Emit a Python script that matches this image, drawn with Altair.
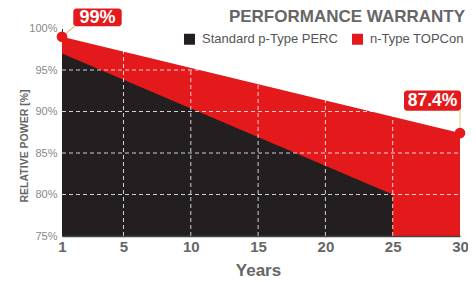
import altair as alt
import pandas as pd

# ---- data ----
series_names = ["Standard p-Type PERC", "n-Type TOPCon"]
perc_years = [1, 25]
perc_power = [97.0, 80.0]
topcon_years = [1, 30]
topcon_power = [99.0, 87.4]
x_ticks = [1, 5, 10, 15, 20, 25, 30]
y_ticks = [75, 80, 85, 90, 95, 100]
grid_x = [5, 10, 15, 20, 25]
grid_y = [80, 85, 90, 95]
anno_years = [1, 30]
anno_power = [99.0, 87.4]
anno_text = ["99%", "87.4%"]
chart_title = ["PERFORMANCE WARRANTY"]

RED = "#e3191c"
BLACK = "#231f20"
FONT = "Liberation Sans"

perc_df = pd.DataFrame({"year": perc_years, "power": perc_power, "series": series_names[0]})
top_df = pd.DataFrame({"year": topcon_years, "power": topcon_power, "series": series_names[1]})
gx_df = pd.DataFrame({"year": grid_x})
gy_df = pd.DataFrame({"power": grid_y})
a1 = pd.DataFrame({"year": [anno_years[0]], "power": [anno_power[0]], "label": [anno_text[0]]})
a2 = pd.DataFrame({"year": [anno_years[1]], "power": [anno_power[1]], "label": [anno_text[1]]})
title_df = pd.DataFrame({"year": [30], "power": [100], "label": chart_title})

W, H = 398, 207.5
xscale = alt.Scale(domain=[1, 5, 30], range=[0, 61.5, W], zero=False, nice=False)
yscale = alt.Scale(domain=[75, 100], zero=False, nice=False)

xaxis = alt.Axis(
    title="Years", values=x_ticks, grid=False, ticks=False, labelFlush=False,
    labelFont=FONT, labelFontSize=15, labelFontWeight="bold", labelColor="#666666",
    labelPadding=3, domainColor="#444444", domainWidth=1.5, zindex=1,
    titleFont=FONT, titleFontSize=17, titleFontWeight="bold", titleColor="#666666",
    titleX=196, titleY=39, titleBaseline="alphabetic",
)
yaxis = alt.Axis(
    title="RELATIVE POWER [%]", values=y_ticks, grid=False, ticks=False,
    labelExpr="datum.value + '%'", labelFont=FONT, labelFontSize=11,
    labelColor="#888888", labelPadding=5, domainColor="#333333", domainWidth=1,
    titleFont=FONT, titleFontSize=10.5, titleFontWeight="bold", titleColor="#666666",
    titleX=-35, titleY=117, titleAngle=-90, titleAlign="center", titleBaseline="alphabetic",
    zindex=0,
)

color = alt.Color(
    "series:N",
    scale=alt.Scale(domain=series_names, range=[BLACK, RED]),
    legend=alt.Legend(
        title=None, orient="none", legendX=121, legendY=4, direction="horizontal",
        symbolType="square", symbolSize=121, symbolStrokeWidth=0, symbolOpacity=1,
        labelFont=FONT, labelFontSize=13, labelColor="#555555", labelOffset=6,
        columnPadding=13, padding=0,
    ),
    sort=series_names,
)

red_area = alt.Chart(top_df).mark_area(opacity=1).encode(
    x=alt.X("year:Q", scale=xscale, axis=xaxis),
    y=alt.Y("power:Q", scale=yscale, axis=yaxis),
    y2=alt.datum(75),
    color=color,
)
black_area = alt.Chart(perc_df).mark_area(opacity=1).encode(
    x="year:Q", y="power:Q", y2=alt.datum(75), color=color,
)

vgrid = alt.Chart(gx_df).mark_rule(color="#ffffff", opacity=0.8, strokeDash=[4, 3], strokeWidth=1).encode(
    x="year:Q", y=alt.datum(75), y2=alt.datum(100)
)
hgrid = alt.Chart(gy_df).mark_rule(color="#ffffff", opacity=0.8, strokeDash=[4, 3], strokeWidth=1).encode(
    y="power:Q", x=alt.datum(1), x2=alt.datum(30)
)

conn1 = alt.Chart(a1).mark_rule(color="#f0a030", strokeWidth=1, x2Offset=13, y2Offset=-11).encode(
    x="year:Q", y="power:Q", x2="year:Q", y2="power:Q"
)
conn2 = alt.Chart(a2).mark_rule(color="#f3cf8c", strokeWidth=1.2, y2Offset=-23).encode(
    x="year:Q", y="power:Q", x2="year:Q", y2="power:Q"
)
dots = alt.Chart(pd.concat([a1, a2])).mark_circle(size=115, color=RED, opacity=1).encode(
    x="year:Q", y="power:Q"
)
box1 = alt.Chart(a1).mark_rect(color=RED, cornerRadius=3, xOffset=11.3, x2Offset=59.7, yOffset=-28.3, y2Offset=-10.5).encode(
    x="year:Q", x2="year:Q", y="power:Q", y2="power:Q"
)
box2 = alt.Chart(a2).mark_rect(color=RED, cornerRadius=3, xOffset=-56, x2Offset=1, yOffset=-42.7, y2Offset=-22.4).encode(
    x="year:Q", x2="year:Q", y="power:Q", y2="power:Q"
)
txt1 = alt.Chart(a1).mark_text(font=FONT, fontSize=18, fontWeight="bold", color="white", dx=35.5, dy=-19.2, baseline="middle", align="center").encode(
    x="year:Q", y="power:Q", text="label:N"
)
txt2 = alt.Chart(a2).mark_text(font=FONT, fontSize=17.5, fontWeight="bold", color="white", dx=-27.5, dy=-32.5, baseline="middle", align="center").encode(
    x="year:Q", y="power:Q", text="label:N"
)
title = alt.Chart(title_df).mark_text(font=FONT, fontSize=17, fontWeight="bold", color="#666666", dx=5, dy=-6.5, baseline="alphabetic", align="right").encode(
    x="year:Q", y="power:Q", text="label:N"
)

chart = alt.layer(
    red_area, black_area, vgrid, hgrid, conn1, conn2, dots, box1, box2, txt1, txt2, title
).properties(
    width=W, height=H,
).configure(
    autosize=alt.AutoSizeParams(type="none"),
    padding={"left": 54, "top": 20.5, "right": 8, "bottom": 44},
    background="white",
).configure_view(stroke=None)

chart.save("out.html", embed_options={"renderer": "svg", "actions": False})
